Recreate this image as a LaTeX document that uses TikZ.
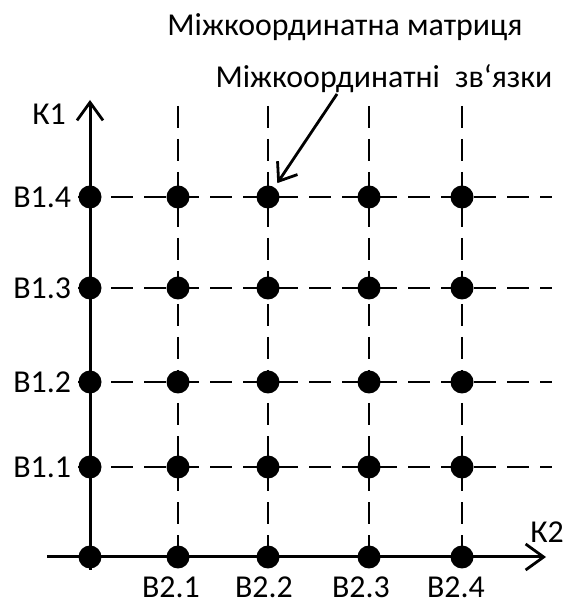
\documentclass[tikz,border=0pt]{standalone}
\usepackage{fontspec}
\setmainfont{Carlito}
\usetikzlibrary{positioning,arrows.meta}

\begin{document}
\begin{tikzpicture}[
  x=1bp, y=1bp,
  every node/.style={font=\fontsize{32}{38}\selectfont},
  dot/.style={circle,fill=black,inner sep=0pt,minimum size=23bp},
  lbl/.style={inner sep=0pt},
  axis/.style={line width=3bp,-{Straight Barb[length=18bp,width=26bp,line width=2.8bp]}},
  gridline/.style={line width=2.8bp,dash pattern=on 22bp off 11bp},
  arr/.style={line width=2.8bp,-{Straight Barb[length=16bp,width=24bp]}}
]
\useasboundingbox (0,0) rectangle (564,606);

% axes
\coordinate (k1s) at (90,36);
\coordinate (k1e) at (90,506);
\coordinate (k2s) at (47,49);
\coordinate (k2e) at (546,49);
\draw[axis] (k1s) -- (k1e);
\draw[axis] (k2s) -- (k2e);

% grid points
\node[dot] (d00) at (90,49) {};
\node[dot] (d10) at (178,49) {};
\node[dot] (d20) at (268,49) {};
\node[dot] (d30) at (369,49) {};
\node[dot] (d40) at (462,49) {};

\node[dot] (d01) at (90,139) {};
\node[dot] (d11) at (178,139) {};
\node[dot] (d21) at (268,139) {};
\node[dot] (d31) at (369,139) {};
\node[dot] (d41) at (462,139) {};

\node[dot] (d02) at (90,224) {};
\node[dot] (d12) at (178,224) {};
\node[dot] (d22) at (268,224) {};
\node[dot] (d32) at (369,224) {};
\node[dot] (d42) at (462,224) {};

\node[dot] (d03) at (90,318) {};
\node[dot] (d13) at (178,318) {};
\node[dot] (d23) at (268,318) {};
\node[dot] (d33) at (369,318) {};
\node[dot] (d43) at (462,318) {};

\node[dot] (d04) at (90,409) {};
\node[dot] (d14) at (178,409) {};
\node[dot] (d24) at (268,409) {};
\node[dot] (d34) at (369,409) {};
\node[dot] (d44) at (462,409) {};

% dashed links
\coordinate (e1) at (552,139);
\coordinate (e2) at (552,224);
\coordinate (e3) at (552,318);
\coordinate (e4) at (552,409);
\draw[gridline] (d01.west) -- (e1);
\draw[gridline] (d02.west) -- (e2);
\draw[gridline] (d03.west) -- (e3);
\draw[gridline] (d04.west) -- (e4);

\coordinate (t1) at (178,500);
\coordinate (t2) at (268,500);
\coordinate (t3) at (369,500);
\coordinate (t4) at (462,500);
\draw[gridline] (t1) -- (d10.center);
\draw[gridline] (t2) -- (d20.center);
\draw[gridline] (t3) -- (d30.center);
\draw[gridline] (t4) -- (d40.center);

% labels
\node[lbl, left=7bp of d01] (b11) {В1.1};
\node[lbl, left=7bp of d02] (b12) {В1.2};
\node[lbl, left=7bp of d03] (b13) {В1.3};
\node[lbl, left=7bp of d04] (b14) {В1.4};

\node[lbl, below=8bp of d10, xshift=-7bp] (b21) {В2.1};
\node[lbl, below=8bp of d20, xshift=-4bp] (b22) {В2.2};
\node[lbl, below=8bp of d30, xshift=-8bp] (b23) {В2.3};
\node[lbl, below=8bp of d40, xshift=-6bp] (b24) {В2.4};

\node[lbl] (k1) at (49,492) {К1};
\node[lbl] (k2) at (547,74) {К2};

\node[lbl] (title) at (345,579) {Міжкоординатна матриця};
\node[lbl] (links) at (384,527) {Міжкоординатні\hspace{0.25em} зв‘язки};

\coordinate (ptr) at (337,512);
\draw[arr, shorten >=5bp] (ptr) -- (d24);
\end{tikzpicture}
\end{document}
